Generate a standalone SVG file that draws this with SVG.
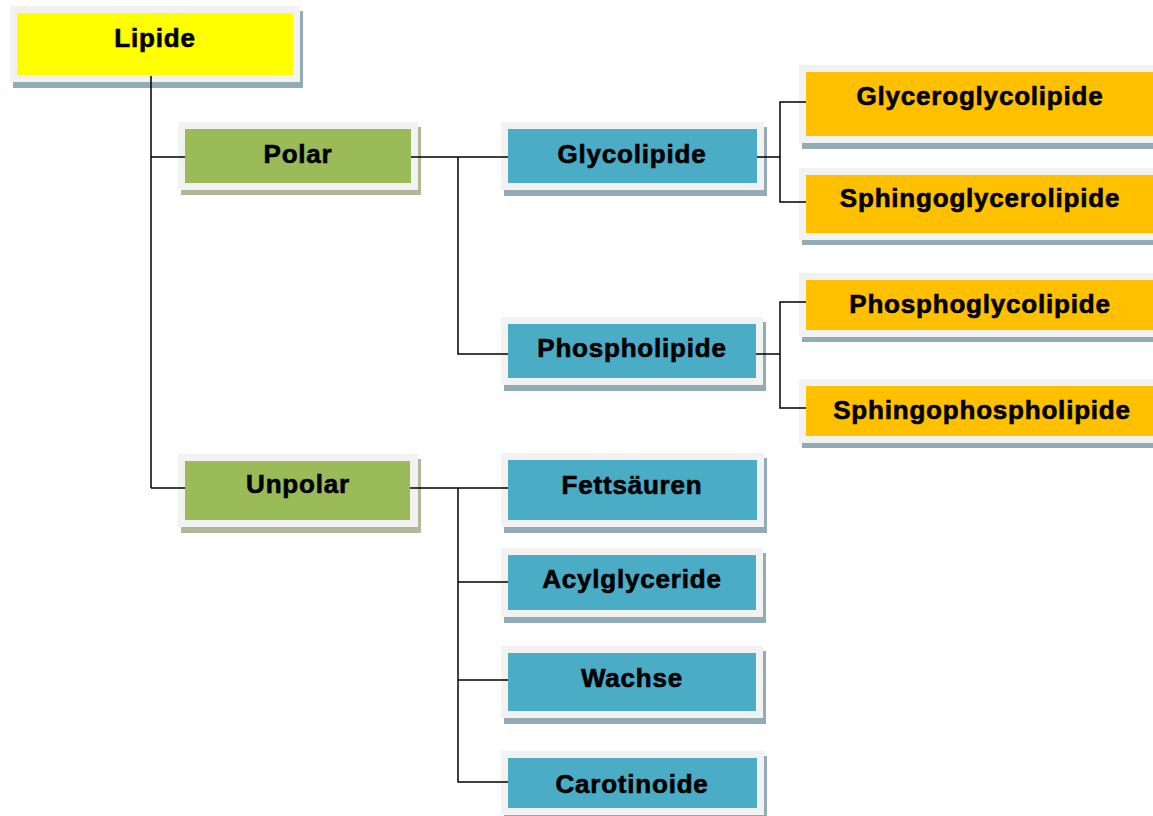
<svg xmlns="http://www.w3.org/2000/svg" width="1153" height="816" viewBox="0 0 1153 816">
<style>
.frame{fill:#f2f2f2}
.sh{fill:#93abb5}
.shg{fill:#b0b898}
.y{fill:#ffff00}
.g{fill:#9bbb59}
.b{fill:#4bacc6}
.o{fill:#ffc000}
text{font-family:"Liberation Sans",Arial,sans-serif;font-weight:bold;font-size:26px;letter-spacing:0.8px;fill:#000;stroke:#000;stroke-width:0.6;text-anchor:middle}
.c{fill:none;stroke:#000;stroke-width:1.5}
</style>
<rect width="1153" height="816" fill="#fff"/>
<g id="n-lipide"><rect class="sh" x="13" y="11" width="290" height="77"/><rect class="frame" x="10" y="6" width="290" height="76"/><rect class="y" x="17" y="13" width="276" height="62"/><text x="155" y="47">Lipide</text></g>
<g id="n-polar"><rect class="shg" x="181" y="127" width="240" height="68"/><rect class="frame" x="178" y="122" width="240" height="68"/><rect class="g" x="185" y="129" width="226" height="54"/><text x="298" y="163">Polar</text></g>
<g id="n-unpolar"><rect class="shg" x="181" y="459" width="240" height="74"/><rect class="frame" x="178" y="454" width="240" height="73"/><rect class="g" x="185" y="461" width="225" height="59"/><text x="298" y="493">Unpolar</text></g>
<g id="n-glycolipide"><rect class="sh" x="504" y="127" width="263" height="69"/><rect class="frame" x="501" y="122" width="263" height="68"/><rect class="b" x="508" y="129" width="249" height="54"/><text x="632" y="163">Glycolipide</text></g>
<g id="n-phospholipide"><rect class="sh" x="504" y="322" width="262" height="69"/><rect class="frame" x="501" y="317" width="262" height="68"/><rect class="b" x="508" y="324" width="248" height="54"/><text x="632" y="357">Phospholipide</text></g>
<g id="n-fettsaeuren"><rect class="sh" x="504" y="458" width="263" height="75"/><rect class="frame" x="501" y="453" width="263" height="74"/><rect class="b" x="508" y="460" width="249" height="60"/><text x="632" y="494">Fettsäuren</text></g>
<g id="n-acylglyceride"><rect class="sh" x="504" y="553" width="262" height="70"/><rect class="frame" x="501" y="548" width="262" height="69"/><rect class="b" x="508" y="555" width="248" height="55"/><text x="632" y="588">Acylglyceride</text></g>
<g id="n-wachse"><rect class="sh" x="504" y="651" width="262" height="73"/><rect class="frame" x="501" y="646" width="262" height="72"/><rect class="b" x="508" y="653" width="248" height="58"/><text x="632" y="687">Wachse</text></g>
<g id="n-carotinoide"><rect class="sh" x="504" y="756" width="263" height="65"/><rect class="frame" x="501" y="751" width="263" height="64"/><rect class="b" x="508" y="758" width="249" height="50"/><text x="632" y="793">Carotinoide</text></g>
<g id="n-glyceroglycolipide"><rect class="sh" x="802" y="70" width="361" height="79"/><rect class="frame" x="799" y="65" width="361" height="78"/><rect class="o" x="806" y="72" width="347" height="64"/><text x="980" y="105">Glyceroglycolipide</text></g>
<g id="n-sphingoglycerolipide"><rect class="sh" x="802" y="173" width="361" height="72"/><rect class="frame" x="799" y="168" width="361" height="72"/><rect class="o" x="806" y="175" width="347" height="58"/><text x="980" y="207">Sphingoglycerolipide</text></g>
<g id="n-phosphoglycolipide"><rect class="sh" x="802" y="278" width="361" height="64"/><rect class="frame" x="799" y="273" width="361" height="64"/><rect class="o" x="806" y="280" width="347" height="50"/><text x="980" y="313">Phosphoglycolipide</text></g>
<g id="n-sphingophospholipide"><rect class="sh" x="802" y="384" width="361" height="64"/><rect class="frame" x="799" y="379" width="361" height="64"/><rect class="o" x="806" y="386" width="347" height="50"/><text x="982" y="419">Sphingophospholipide</text></g>
<g id="connectors">
<path class="c" d="M151 76 V488 M151 157 H185 M151 488 H185"/>
<path class="c" d="M411 157 H508 M458 157 V354 H508"/>
<path class="c" d="M757 157 H780 M806 102 H780 V202 H806"/>
<path class="c" d="M756 354 H780 M806 302 H780 V408 H806"/>
<path class="c" d="M410 488 H508 M458 488 V782 H508 M458 582 H508 M458 680 H508"/>
</g>
</svg>
